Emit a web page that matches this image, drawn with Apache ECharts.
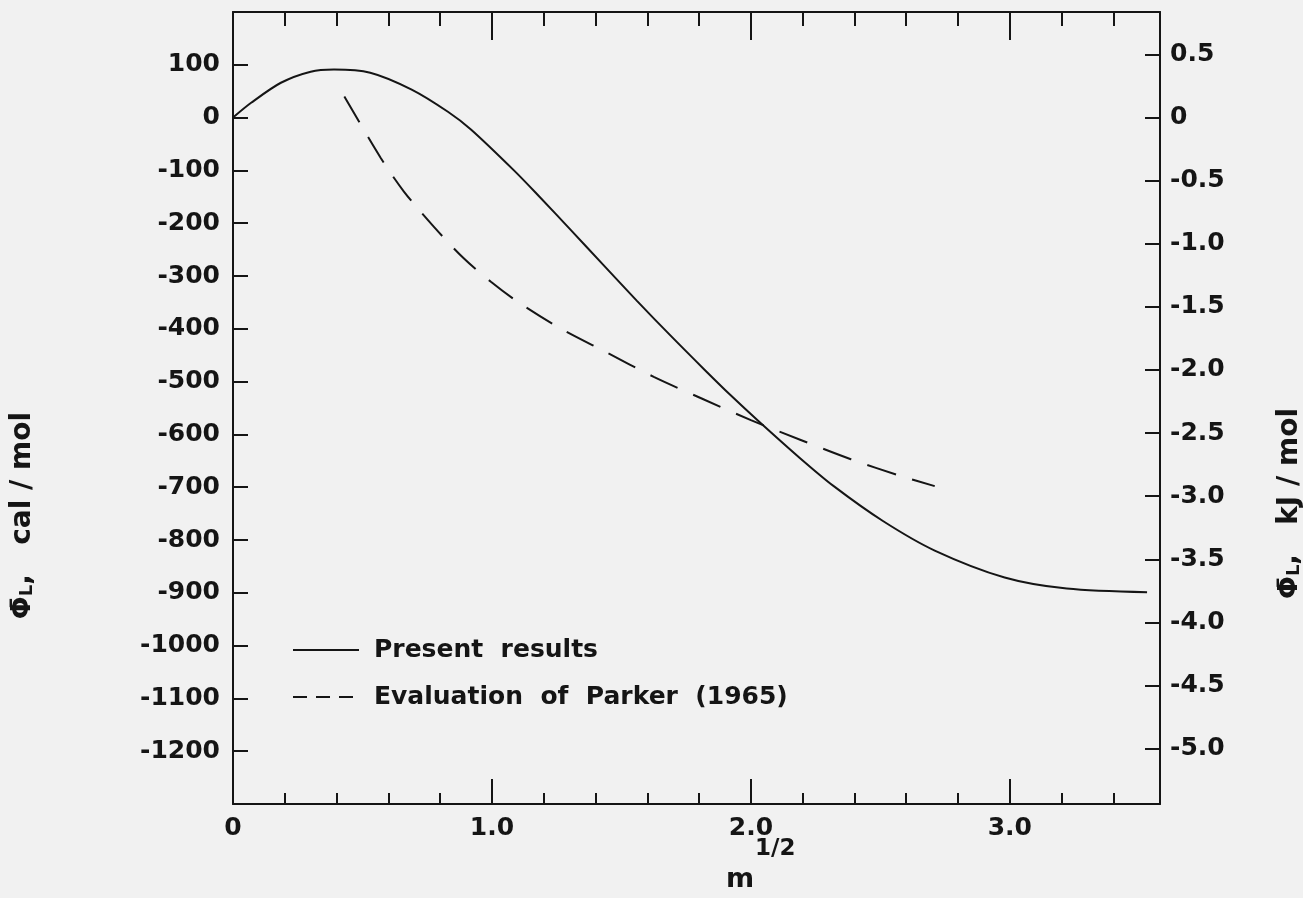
<!DOCTYPE html>
<html>
<head>
<meta charset="utf-8">
<script src="https://cdn.jsdelivr.net/npm/echarts@6/dist/echarts.min.js"></script>
<style>
  html, body { margin: 0; padding: 0; background: #f1f1f1; }
  #chart { width: 1303px; height: 898px; }
</style>
</head>
<body>
<div id="chart"></div>
<script>
// ---- data ----
const presentM   = [0, 0.07, 0.185, 0.30, 0.39, 0.53, 0.69, 0.83, 0.92, 1.085, 1.18, 1.305, 1.43, 1.56, 1.69, 1.82, 1.92, 2.03, 2.19, 2.32, 2.51, 2.71, 2.98, 3.22, 3.53];
const presentCal = [0, 28, 66, 87, 91, 85, 53, 11, -23, -100, -148, -213, -279, -347, -413, -477, -525, -575, -645, -698, -764, -820, -871, -892, -899];

const parkerM   = [0.43, 0.57, 0.66, 0.776, 0.89, 0.996, 1.10, 1.26, 1.44, 1.625, 1.81, 2.0, 2.20, 2.386, 2.58, 2.71];
const parkerCal = [40, -76, -140, -207, -266, -311, -349, -398, -444, -491, -532, -573, -612, -647, -679, -698];

const seriesNames = ['Present results', 'Evaluation of Parker (1965)'];

const xTickLabels = ['0', '1.0', '2.0', '3.0'];
const leftTicks = [100, 0, -100, -200, -300, -400, -500, -600, -700, -800, -900, -1000, -1100, -1200];
const rightTicks = [0.5, 0, -0.5, -1.0, -1.5, -2.0, -2.5, -3.0, -3.5, -4.0, -4.5, -5.0];

const CAL_TO_KJ = 0.004184;
const xMin = 0, xMax = 3.58;
const yMin = -1300, yMax = 200;

// ---- chart ----
const INK = '#151515';
const FONT = 'DejaVu Sans';
const chart = echarts.init(document.getElementById('chart'), null, { renderer: 'canvas' });

const zip = (a, b) => a.map((v, i) => [v, b[i]]);

const xAxisCommon = {
  type: 'value', min: xMin, max: xMax, interval: 1,
  axisLine: { show: true, onZero: false, lineStyle: { color: INK, width: 2 } },
  splitLine: { show: false }
};

const titleRich = {
  a: { fontFamily: FONT, fontWeight: 'bold', fontSize: 27, fill: INK },
  b: { fontFamily: FONT, fontWeight: 'bold', fontSize: 18, fill: INK, padding: [8, 0, 0, 0] },
  c: { fontFamily: FONT, fontWeight: 'bold', fontSize: 28, fill: INK }
};

const option = {
  backgroundColor: '#f1f1f1',
  animation: false,
  grid: { left: 233, right: 143, top: 12, bottom: 94, containLabel: false },
  legend: {
    orient: 'vertical', left: 292, top: 635,
    itemWidth: 66, itemHeight: 14, itemGap: 17, padding: 0,
    itemStyle: { opacity: 0 },
    data: [
      { name: seriesNames[0] },
      { name: seriesNames[1], lineStyle: { type: [14, 9], width: 2 } }
    ],
    formatter: n => n.replace(/ /g, '  '),
    textStyle: { fontFamily: FONT, fontWeight: 'bold', fontSize: 25, color: INK, lineHeight: 30, padding: [0, 0, 0, 10] }
  },
  xAxis: [
    Object.assign({}, xAxisCommon, {
      position: 'bottom',
      axisTick: { show: true, inside: true, length: 25, lineStyle: { color: INK, width: 2 } },
      minorTick: { show: true, splitNumber: 5, length: 11, lineStyle: { color: INK, width: 2 } },
      axisLabel: {
        margin: 12, color: INK, fontFamily: FONT, fontWeight: 'bold', fontSize: 25,
        formatter: v => {
          const i = Math.round(v);
          return Math.abs(v - i) < 1e-9 && i < xTickLabels.length ? xTickLabels[i] : '';
        }
      }
    }),
    Object.assign({}, xAxisCommon, {
      position: 'top',
      axisTick: { show: true, inside: true, length: 28, lineStyle: { color: INK, width: 2 } },
      minorTick: { show: true, splitNumber: 5, length: 14, lineStyle: { color: INK, width: 2 } },
      axisLabel: { show: false }
    })
  ],
  yAxis: [
    {
      type: 'value', position: 'left', min: yMin, max: yMax, interval: 100,
      axisLine: { show: true, onZero: false, lineStyle: { color: INK, width: 2 } },
      axisTick: { show: true, inside: true, length: 15, customValues: leftTicks, lineStyle: { color: INK, width: 2 } },
      axisLabel: {
        margin: 13, color: INK, fontFamily: FONT, fontWeight: 'bold', fontSize: 25, customValues: leftTicks,
        formatter: v => String(v)
      },
      splitLine: { show: false }
    },
    {
      type: 'value', position: 'right', min: yMin * CAL_TO_KJ, max: yMax * CAL_TO_KJ,
      axisLine: { show: true, onZero: false, lineStyle: { color: INK, width: 2 } },
      axisTick: { show: true, inside: true, length: 15, customValues: rightTicks, lineStyle: { color: INK, width: 2 } },
      axisLabel: {
        margin: 10, color: INK, fontFamily: FONT, fontWeight: 'bold', fontSize: 25, customValues: rightTicks,
        formatter: v => (Math.abs(v) < 1e-9 ? '0' : v.toFixed(1))
      },
      splitLine: { show: false }
    }
  ],
  series: [
    {
      name: seriesNames[0], type: 'line', xAxisIndex: 0, yAxisIndex: 0,
      data: zip(presentM, presentCal), smooth: 0.3, symbol: 'none',
      lineStyle: { color: INK, width: 2 }, itemStyle: { color: INK }
    },
    {
      name: seriesNames[1], type: 'line', xAxisIndex: 0, yAxisIndex: 0,
      data: zip(parkerM, parkerCal), smooth: 0.3, symbol: 'none',
      lineStyle: { color: INK, width: 2, type: [30, 17] }, itemStyle: { color: INK }
    }
  ],
  graphic: [
    {
      type: 'text', left: 9, top: 412, rotation: Math.PI / 2, silent: true,
      style: { text: '{a|Φ̄}{b|L}{c|,   cal / mol}', rich: titleRich }
    },
    {
      type: 'text', left: 1276, top: 408, rotation: Math.PI / 2, silent: true,
      style: { text: '{a|Φ̄}{b|L}{c|,   kJ / mol}', rich: titleRich }
    },
    {
      type: 'text', left: 726, top: 866, silent: true,
      style: { text: 'm', fontFamily: FONT, fontWeight: 'bold', fontSize: 27, fill: INK }
    },
    {
      type: 'text', left: 755, top: 838, silent: true,
      style: { text: '1/2', fontFamily: FONT, fontWeight: 'bold', fontSize: 23, fill: INK }
    }
  ]
};

chart.setOption(option);
</script>
</body>
</html>
